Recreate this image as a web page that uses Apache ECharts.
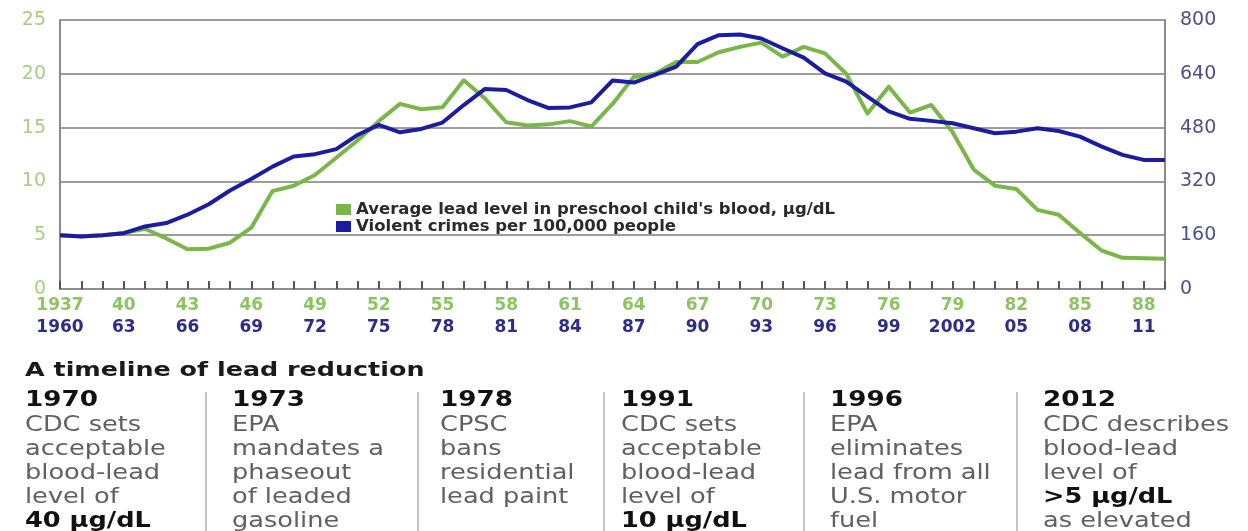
<!DOCTYPE html>
<html>
<head>
<meta charset="utf-8">
<script src="https://cdn.jsdelivr.net/npm/echarts@6/dist/echarts.min.js"></script>
<style>
  html, body { margin: 0; padding: 0; background: #fff; }
  #wrap { position: relative; width: 1248px; height: 531px; overflow: hidden; font-family: "DejaVu Sans", sans-serif; }
  #chart { position: absolute; left: 0; top: 0; width: 1248px; height: 531px; }
  .title { position: absolute; left: 25px; top: 357px; font-size: 20px; line-height: 24px; font-weight: bold; color: #1a1a1a; transform: scaleX(1.27); transform-origin: left center; white-space: nowrap; }
  .col { position: absolute; top: 386px; transform: scaleX(1.25); transform-origin: left top; white-space: nowrap; }
  .yr { font-size: 21px; line-height: 26px; font-weight: bold; color: #111; }
  .d { font-size: 20.5px; line-height: 24px; color: #606060; }
  .d b { color: #111; }
  .sep { position: absolute; top: 392px; width: 2px; height: 139px; background: #c4c4c4; }
</style>
</head>
<body>
<div id="wrap">
  <div id="chart"></div>
  <div class="title">A timeline of lead reduction</div>
  <div class="sep" style="left:205px"></div>
  <div class="sep" style="left:417px"></div>
  <div class="sep" style="left:603px"></div>
  <div class="sep" style="left:803px"></div>
  <div class="sep" style="left:1016px"></div>
  <div class="col" style="left:25px"><div class="yr">1970</div><div class="d">CDC sets<br>acceptable<br>blood-lead<br>level of<br><b>40 µg/dL</b></div></div>
  <div class="col" style="left:232px"><div class="yr">1973</div><div class="d">EPA<br>mandates a<br>phaseout<br>of leaded<br>gasoline</div></div>
  <div class="col" style="left:440px"><div class="yr">1978</div><div class="d">CPSC<br>bans<br>residential<br>lead paint</div></div>
  <div class="col" style="left:621px"><div class="yr">1991</div><div class="d">CDC sets<br>acceptable<br>blood-lead<br>level of<br><b>10 µg/dL</b></div></div>
  <div class="col" style="left:830px"><div class="yr">1996</div><div class="d">EPA<br>eliminates<br>lead from all<br>U.S. motor<br>fuel</div></div>
  <div class="col" style="left:1043px"><div class="yr">2012</div><div class="d">CDC describes<br>blood-lead<br>level of<br><b>&gt;5 µg/dL</b><br>as elevated</div></div>
</div>
<script>
// Years (category axes)
const leadYears = [];
for (let y = 1937; y <= 1989; y++) leadYears.push(String(y));
const crimeYears = [];
for (let y = 1960; y <= 2012; y++) crimeYears.push(String(y));

// Tick labels shown every 3 years
const leadTickLabels = ['1937','40','43','46','49','52','55','58','61','64','67','70','73','76','79','82','85','88'];
const crimeTickLabels = ['1960','63','66','69','72','75','78','81','84','87','90','93','96','99','2002','05','08','11'];

// Average lead level in preschool child's blood, µg/dL (1937-1989)
const leadLevel = [5.0, 4.9, 5.0, 5.2, 5.6, 4.7, 3.7, 3.75, 4.3, 5.7,
  9.1, 9.6, 10.6, 12.2, 13.8, 15.6, 17.2, 16.7, 16.9, 19.4,
  17.7, 15.5, 15.2, 15.3, 15.6, 15.1, 17.2, 19.7, 20.0, 21.1,
  21.1, 22.0, 22.5, 22.9, 21.6, 22.5, 21.9, 20.0, 16.3, 18.8,
  16.4, 17.1, 14.6, 11.1, 9.6, 9.3, 7.35, 6.9, 5.2, 3.6,
  2.9, 2.85, 2.8];

// Violent crimes per 100,000 people (1960-2012)
const violentCrime = [160, 156, 160, 166, 186, 196, 221, 252, 293, 327,
  364, 394, 401, 416, 458, 488, 466, 476, 495, 547,
  595, 592, 562, 538, 540, 555, 620, 614, 637, 661,
  728, 755, 757, 745, 716, 688, 641, 617, 572, 528,
  506, 500, 493, 478, 463, 468, 478, 470, 453, 424,
  399, 384, 384];

const leadName = "Average lead level in preschool child's blood, µg/dL";
const crimeName = 'Violent crimes per 100,000 people';

const GREEN = '#7ab648';
const BLUE = '#1c1ca0';
const FONT = 'DejaVu Sans';

const chart = echarts.init(document.getElementById('chart'));
chart.setOption({
  animation: false,
  backgroundColor: '#fff',
  grid: { left: 60, right: 83, top: 20, bottom: 242, containLabel: false },
  legend: {
    left: 331, top: 196, orient: 'vertical', itemGap: 0,
    itemWidth: 15, itemHeight: 11, icon: 'rect',
    textStyle: { fontFamily: FONT, fontSize: 16.5, fontWeight: 'bold', color: '#2a2a2a', lineHeight: 16 },
    data: [leadName, crimeName]
  },
  xAxis: [
    {
      type: 'category', data: leadYears, boundaryGap: false, position: 'bottom',
      axisLine: { show: true, onZero: false, lineStyle: { color: '#8c8c8c', width: 2 } },
      axisTick: { show: true, interval: 0, inside: true, length: 8, lineStyle: { color: '#555555', width: 2 } },
      axisLabel: {
        interval: 2, margin: 8, color: '#8cc462', fontFamily: FONT, fontSize: 17, fontWeight: 'bold',
        formatter: (v, i) => leadTickLabels[Math.round(i / 3)]
      },
      splitLine: { show: false }
    },
    {
      type: 'category', data: crimeYears, boundaryGap: false, position: 'bottom', offset: 22,
      axisLine: { show: false, onZero: false }, axisTick: { show: false },
      axisLabel: {
        interval: 2, margin: 8, color: '#2c2d88', fontFamily: FONT, fontSize: 17, fontWeight: 'bold',
        formatter: (v, i) => crimeTickLabels[Math.round(i / 3)]
      },
      splitLine: { show: false }
    }
  ],
  yAxis: [
    {
      type: 'value', min: 0, max: 25, interval: 5, position: 'left',
      axisLine: { show: true, lineStyle: { color: '#8c8c8c', width: 2 } },
      axisTick: { show: false },
      axisLabel: { margin: 14, color: '#a6cf82', fontFamily: FONT, fontSize: 19 },
      splitLine: { show: true, lineStyle: { color: '#7d7d7d', width: 1.6 } }
    },
    {
      type: 'value', min: 0, max: 800, interval: 160, position: 'right',
      axisLine: { show: true, lineStyle: { color: '#8c8c8c', width: 2 } },
      axisTick: { show: false },
      axisLabel: { margin: 15, color: '#4c5089', fontFamily: FONT, fontSize: 19 },
      splitLine: { show: false }
    }
  ],
  series: [
    {
      name: leadName, type: 'line', data: leadLevel, xAxisIndex: 0, yAxisIndex: 0,
      symbol: 'none', z: 2, color: GREEN,
      lineStyle: { color: GREEN, width: 4, join: 'round' }
    },
    {
      name: crimeName, type: 'line', data: violentCrime, xAxisIndex: 1, yAxisIndex: 1,
      symbol: 'none', z: 3, color: BLUE,
      lineStyle: { color: BLUE, width: 4, join: 'round' }
    }
  ]
});
</script>
</body>
</html>
